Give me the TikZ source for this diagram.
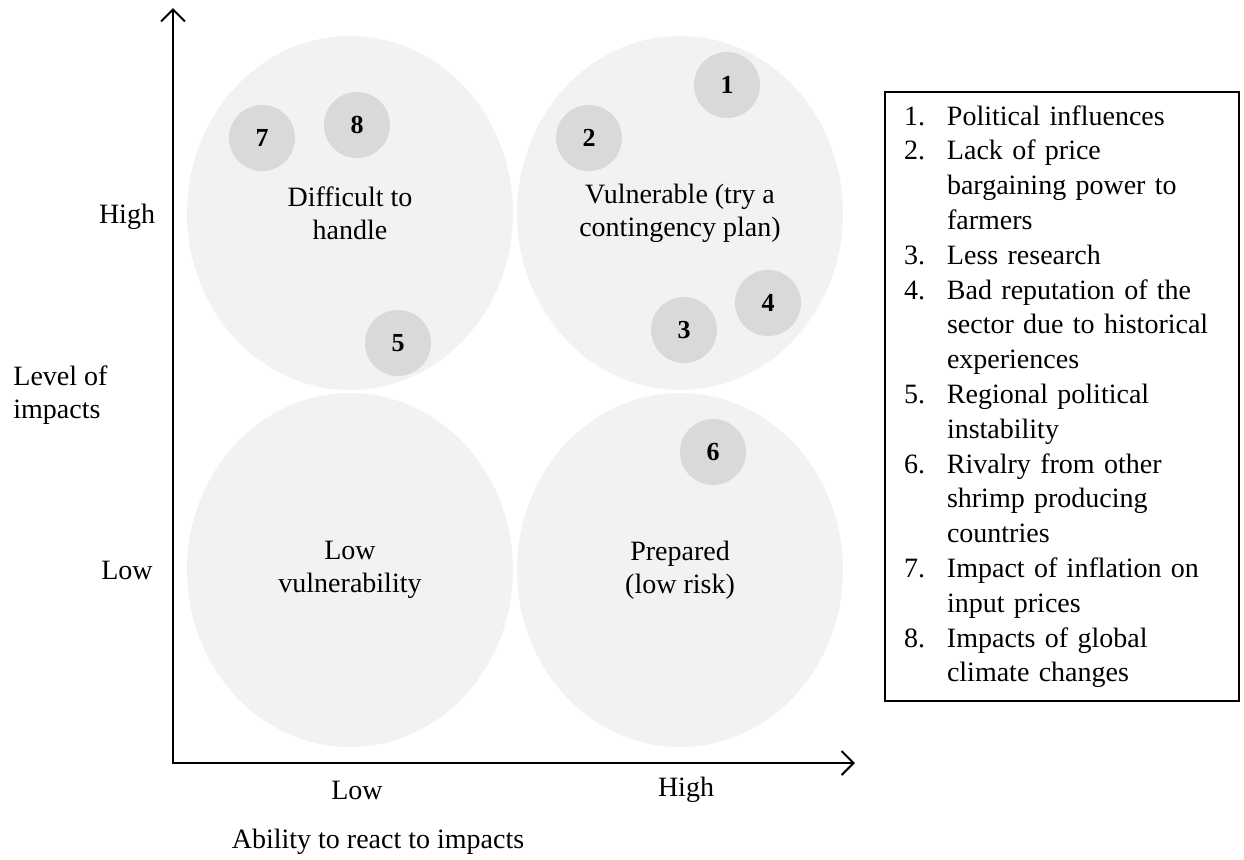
\documentclass[tikz,border=0pt]{standalone}
\usepackage{fontspec}
\setmainfont{Liberation Serif}
\usetikzlibrary{shapes.geometric, arrows.meta, positioning}
\definecolor{QuadGray}{HTML}{F2F2F2}
\definecolor{BubbleGray}{HTML}{D9D9D9}
\tikzset{
    % Quadrant zones
    quadzone/.style={
        ellipse,
        fill=QuadGray,
        draw=none,
        minimum width=163pt,
        minimum height=177pt,
        inner sep=0pt,
        align=center,
        font=\fontsize{14}{16.5}\selectfont
    },
    % Numbered factors
    bubble/.style={
        circle,
        fill=BubbleGray,
        draw=none,
        minimum size=33pt,
        inner sep=0pt,
        font=\fontsize{13}{15}\selectfont\bfseries
    },
    % Axes
    axisline/.style={
        {Straight Barb[length=6pt,width=12pt]}-{Straight Barb[length=6pt,width=12pt]},
        line width=1pt,
        black
    },
    axislabel/.style={
        align=center,
        font=\fontsize{14}{16.5}\selectfont
    },
    % Legend
    legendbox/.style={
        rectangle,
        draw=black,
        line width=1pt,
        anchor=north west,
        text width=158pt,
        minimum height=304.5pt,
        inner xsep=9.5pt,
        inner ysep=0pt,
        align=left,
        font=\fontsize{14}{17.4}\selectfont
    }
}

\begin{document}
\begin{tikzpicture}[x=0.5pt, y=-0.5pt]
    \useasboundingbox (0,0) rectangle (1244,859);

    % Quadrants
    \node[quadzone] (hardq) at (350,213) {Difficult to\\handle};
    \node[quadzone] (vulnq) at (680,213) {Vulnerable (try a\\contingency plan)};
    \node[quadzone] (lowq) at (350,570) {Low\\vulnerability};
    \node[quadzone] (prepq) at (680,570) {Prepared\\(low risk)};

    % Factors
    \node[bubble] (f1) at (727,85) {1};
    \node[bubble] (f2) at (589,138) {2};
    \node[bubble] (f3) at (684,330) {3};
    \node[bubble] (f4) at (768,303) {4};
    \node[bubble] (f5) at (398,343) {5};
    \node[bubble] (f6) at (713,452) {6};
    \node[bubble] (f7) at (262,138) {7};
    \node[bubble] (f8) at (357,125) {8};

    % Axes
    \coordinate (origin) at (173,763);
    \coordinate (ytip) at (173,8);
    \coordinate (xtip) at (855,763);
    \draw[axisline] (ytip) -- (origin) -- (xtip);

    \node[axislabel] (yhigh) at (127,217) {High};
    \node[axislabel] (ylow) at (127,570) {Low};
    \node[axislabel, anchor=west, align=left, inner xsep=0pt] (ytitle) at (13,395) {Level of\\impacts};
    \node[axislabel] (xlow) at (357,790) {Low};
    \node[axislabel] (xhigh) at (686,790) {High};
    \node[axislabel] (xtitle) at (378,842) {Ability to react to impacts};

    % Legend
    \node[legendbox] (legend) at (884,91) {%
        \begin{tabular}{@{}p{21.5pt}@{}l@{}}
        1. & Political influences\\
        2. & Lack of price\\
           & bargaining power to\\
           & farmers\\
        3. & Less research\\
        4. & Bad reputation of the\\
           & sector due to historical\\
           & experiences\\
        5. & Regional political\\
           & instability\\
        6. & Rivalry from other\\
           & shrimp producing\\
           & countries\\
        7. & Impact of inflation on\\
           & input prices\\
        8. & Impacts of global\\
           & climate changes
        \end{tabular}};
\end{tikzpicture}
\end{document}
